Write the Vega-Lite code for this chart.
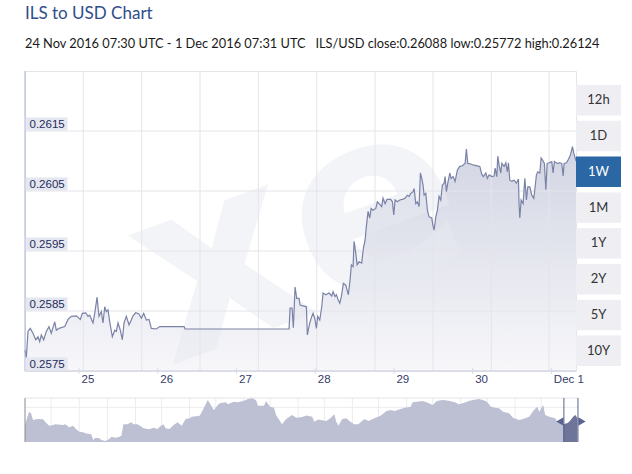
{
  "$schema": "https://vega.github.io/schema/vega-lite/v6.json",
  "background": "white",
  "padding": {"left": 22, "top": 5, "right": 0, "bottom": 0},
  "width": 551,
  "height": 300,
  "title": {
    "text": "ILS to USD Chart",
    "subtitle": "24 Nov 2016 07:30 UTC - 1 Dec 2016 07:31 UTC\u00a0\u00a0\u00a0ILS/USD close:0.26088 low:0.25772 high:0.26124",
    "anchor": "start", "frame": "group",
    "font": "Lato", "fontSize": 17, "fontWeight": "normal", "color": "#2f4d8a",
    "subtitleFont": "Lato", "subtitleFontSize": 12.8, "subtitleColor": "#1a1a1a",
    "subtitlePadding": 15, "offset": 13
  },
  "config": {"view": {"stroke": "#e4e4ea"}},
  "datasets": {
    "main": [
      {"t":"2016-11-24T07:30Z","v":0.25785},{"t":"2016-11-24T07:54Z","v":0.25772},{"t":"2016-11-24T08:25Z","v":0.25816},{"t":"2016-11-24T09:07Z","v":0.25821},
      {"t":"2016-11-24T09:56Z","v":0.25813},{"t":"2016-11-24T10:46Z","v":0.25802},{"t":"2016-11-24T11:28Z","v":0.25807},{"t":"2016-11-24T11:59Z","v":0.25799},
      {"t":"2016-11-24T12:28Z","v":0.2581},{"t":"2016-11-24T13:12Z","v":0.25802},{"t":"2016-11-24T14:00Z","v":0.25816},{"t":"2016-11-24T14:49Z","v":0.25824},
      {"t":"2016-11-24T15:31Z","v":0.25813},{"t":"2016-11-24T16:34Z","v":0.25832},{"t":"2016-11-24T17:03Z","v":0.25818},{"t":"2016-11-24T17:52Z","v":0.25821},
      {"t":"2016-11-24T19:37Z","v":0.25824},{"t":"2016-11-24T20:37Z","v":0.25836},{"t":"2016-11-24T21:37Z","v":0.25841},{"t":"2016-11-24T23:09Z","v":0.25842},
      {"t":"2016-11-25T00:22Z","v":0.25836},{"t":"2016-11-25T00:59Z","v":0.25846},{"t":"2016-11-25T02:01Z","v":0.25847},{"t":"2016-11-25T02:43Z","v":0.25841},
      {"t":"2016-11-25T03:14Z","v":0.25843},{"t":"2016-11-25T04:14Z","v":0.2583},{"t":"2016-11-25T04:46Z","v":0.25846},{"t":"2016-11-25T05:28Z","v":0.25873},
      {"t":"2016-11-25T06:04Z","v":0.25841},{"t":"2016-11-25T06:46Z","v":0.25849},{"t":"2016-11-25T07:17Z","v":0.2583},{"t":"2016-11-25T07:49Z","v":0.25857},
      {"t":"2016-11-25T08:18Z","v":0.25849},{"t":"2016-11-25T08:49Z","v":0.25852},{"t":"2016-11-25T09:20Z","v":0.25832},{"t":"2016-11-25T10:08Z","v":0.25807},
      {"t":"2016-11-25T10:52Z","v":0.25818},{"t":"2016-11-25T11:21Z","v":0.25816},{"t":"2016-11-25T11:52Z","v":0.2583},{"t":"2016-11-25T12:34Z","v":0.25818},
      {"t":"2016-11-25T13:11Z","v":0.25802},{"t":"2016-11-25T13:42Z","v":0.2583},{"t":"2016-11-25T14:24Z","v":0.25841},{"t":"2016-11-25T15:13Z","v":0.25827},
      {"t":"2016-11-25T15:55Z","v":0.25835},{"t":"2016-11-25T16:26Z","v":0.25842},{"t":"2016-11-25T17:16Z","v":0.25847},{"t":"2016-11-25T18:16Z","v":0.25845},
      {"t":"2016-11-25T18:58Z","v":0.25838},{"t":"2016-11-25T19:42Z","v":0.25846},{"t":"2016-11-25T20:30Z","v":0.25835},{"t":"2016-11-25T21:19Z","v":0.25836},
      {"t":"2016-11-25T22:01Z","v":0.25821},{"t":"2016-11-25T23:33Z","v":0.2582},{"t":"2016-11-26T00:35Z","v":0.25824},{"t":"2016-11-26T08:00Z","v":0.25824},
      {"t":"2016-11-26T08:18Z","v":0.2582},{"t":"2016-11-27T16:01Z","v":0.2582},{"t":"2016-11-27T16:20Z","v":0.25855},{"t":"2016-11-27T16:56Z","v":0.25855},
      {"t":"2016-11-27T17:20Z","v":0.25822},{"t":"2016-11-27T17:51Z","v":0.2589},{"t":"2016-11-27T18:22Z","v":0.25871},{"t":"2016-11-27T19:04Z","v":0.25871},
      {"t":"2016-11-27T19:23Z","v":0.2586},{"t":"2016-11-27T21:18Z","v":0.25857},{"t":"2016-11-27T21:36Z","v":0.2581},{"t":"2016-11-27T22:20Z","v":0.2583},
      {"t":"2016-11-27T22:56Z","v":0.25841},{"t":"2016-11-27T23:20Z","v":0.25846},{"t":"2016-11-27T23:51Z","v":0.25838},{"t":"2016-11-28T00:21Z","v":0.25821},
      {"t":"2016-11-28T00:46Z","v":0.25841},{"t":"2016-11-28T01:23Z","v":0.25835},{"t":"2016-11-28T01:59Z","v":0.25857},{"t":"2016-11-28T02:23Z","v":0.2588},
      {"t":"2016-11-28T03:13Z","v":0.25877},{"t":"2016-11-28T04:13Z","v":0.2588},{"t":"2016-11-28T05:02Z","v":0.25875},{"t":"2016-11-28T05:26Z","v":0.25882},
      {"t":"2016-11-28T06:03Z","v":0.25874},{"t":"2016-11-28T06:27Z","v":0.25877},{"t":"2016-11-28T07:03Z","v":0.25868},{"t":"2016-11-28T07:29Z","v":0.25863},
      {"t":"2016-11-28T07:58Z","v":0.25874},{"t":"2016-11-28T08:35Z","v":0.25896},{"t":"2016-11-28T09:19Z","v":0.25893},{"t":"2016-11-28T10:06Z","v":0.25877},
      {"t":"2016-11-28T10:38Z","v":0.25902},{"t":"2016-11-28T11:01Z","v":0.25927},{"t":"2016-11-28T11:32Z","v":0.25924},{"t":"2016-11-28T11:51Z","v":0.25966},
      {"t":"2016-11-28T12:22Z","v":0.25946},{"t":"2016-11-28T12:46Z","v":0.25927},{"t":"2016-11-28T13:22Z","v":0.25932},{"t":"2016-11-28T14:11Z","v":0.2593},
      {"t":"2016-11-28T14:41Z","v":0.25955},{"t":"2016-11-28T15:12Z","v":0.25968},{"t":"2016-11-28T15:36Z","v":0.25991},{"t":"2016-11-28T16:07Z","v":0.26016},
      {"t":"2016-11-28T16:38Z","v":0.26005},{"t":"2016-11-28T17:02Z","v":0.26021},{"t":"2016-11-28T17:38Z","v":0.26018},{"t":"2016-11-28T18:28Z","v":0.26021},
      {"t":"2016-11-28T18:57Z","v":0.26032},{"t":"2016-11-28T19:28Z","v":0.26029},{"t":"2016-11-28T20:17Z","v":0.26024},{"t":"2016-11-28T20:41Z","v":0.26038},
      {"t":"2016-11-28T21:18Z","v":0.26029},{"t":"2016-11-28T21:55Z","v":0.26036},{"t":"2016-11-28T23:02Z","v":0.26036},{"t":"2016-11-28T23:32Z","v":0.26032},
      {"t":"2016-11-28T23:57Z","v":0.2601},{"t":"2016-11-29T00:21Z","v":0.26035},{"t":"2016-11-29T01:03Z","v":0.26032},{"t":"2016-11-29T01:47Z","v":0.26035},
      {"t":"2016-11-29T02:35Z","v":0.26036},{"t":"2016-11-29T03:24Z","v":0.26038},{"t":"2016-11-29T04:06Z","v":0.26043},{"t":"2016-11-29T04:37Z","v":0.26041},
      {"t":"2016-11-29T05:08Z","v":0.26046},{"t":"2016-11-29T05:50Z","v":0.26049},{"t":"2016-11-29T06:09Z","v":0.26054},{"t":"2016-11-29T06:40Z","v":0.26029},
      {"t":"2016-11-29T07:09Z","v":0.26032},{"t":"2016-11-29T07:40Z","v":0.26024},{"t":"2016-11-29T08:04Z","v":0.2608},{"t":"2016-11-29T08:29Z","v":0.26071},
      {"t":"2016-11-29T08:53Z","v":0.2606},{"t":"2016-11-29T09:12Z","v":0.26043},{"t":"2016-11-29T09:43Z","v":0.26046},{"t":"2016-11-29T10:12Z","v":0.26018},
      {"t":"2016-11-29T10:43Z","v":0.26007},{"t":"2016-11-29T11:32Z","v":0.26005},{"t":"2016-11-29T11:56Z","v":0.25991},{"t":"2016-11-29T12:15Z","v":0.25985},
      {"t":"2016-11-29T12:46Z","v":0.26007},{"t":"2016-11-29T13:15Z","v":0.26018},{"t":"2016-11-29T13:46Z","v":0.26041},{"t":"2016-11-29T14:17Z","v":0.26035},
      {"t":"2016-11-29T14:47Z","v":0.2606},{"t":"2016-11-29T15:18Z","v":0.26063},{"t":"2016-11-29T15:36Z","v":0.26074},{"t":"2016-11-29T16:00Z","v":0.26049},
      {"t":"2016-11-29T16:25Z","v":0.26063},{"t":"2016-11-29T17:02Z","v":0.2608},{"t":"2016-11-29T17:26Z","v":0.26071},{"t":"2016-11-29T18:02Z","v":0.26074},
      {"t":"2016-11-29T18:39Z","v":0.26066},{"t":"2016-11-29T19:21Z","v":0.26085},{"t":"2016-11-29T20:05Z","v":0.26091},{"t":"2016-11-29T20:53Z","v":0.26092},
      {"t":"2016-11-29T21:42Z","v":0.26096},{"t":"2016-11-29T22:06Z","v":0.2612},{"t":"2016-11-29T22:31Z","v":0.26096},{"t":"2016-11-29T23:26Z","v":0.26095},
      {"t":"2016-11-30T00:26Z","v":0.26093},{"t":"2016-11-30T01:27Z","v":0.26092},{"t":"2016-11-30T02:11Z","v":0.26091},{"t":"2016-11-30T02:47Z","v":0.26078},
      {"t":"2016-11-30T03:17Z","v":0.26074},{"t":"2016-11-30T04:01Z","v":0.2608},{"t":"2016-11-30T04:30Z","v":0.26071},{"t":"2016-11-30T05:01Z","v":0.26077},
      {"t":"2016-11-30T05:50Z","v":0.26074},{"t":"2016-11-30T06:33Z","v":0.26075},{"t":"2016-11-30T06:51Z","v":0.26088},{"t":"2016-11-30T07:22Z","v":0.26074},
      {"t":"2016-11-30T07:40Z","v":0.26108},{"t":"2016-11-30T08:04Z","v":0.26093},{"t":"2016-11-30T08:35Z","v":0.2608},{"t":"2016-11-30T08:53Z","v":0.26096},
      {"t":"2016-11-30T09:36Z","v":0.26091},{"t":"2016-11-30T10:07Z","v":0.26097},{"t":"2016-11-30T10:36Z","v":0.26082},{"t":"2016-11-30T10:55Z","v":0.26097},
      {"t":"2016-11-30T11:20Z","v":0.26068},{"t":"2016-11-30T11:56Z","v":0.26066},{"t":"2016-11-30T12:38Z","v":0.26068},{"t":"2016-11-30T13:21Z","v":0.26063},
      {"t":"2016-11-30T13:58Z","v":0.2607},{"t":"2016-11-30T14:10Z","v":0.26027},{"t":"2016-11-30T14:23Z","v":0.26005},{"t":"2016-11-30T14:47Z","v":0.26035},
      {"t":"2016-11-30T15:23Z","v":0.26029},{"t":"2016-11-30T15:55Z","v":0.26071},{"t":"2016-11-30T16:24Z","v":0.26035},{"t":"2016-11-30T16:49Z","v":0.26057},
      {"t":"2016-11-30T17:26Z","v":0.26057},{"t":"2016-11-30T18:02Z","v":0.26043},{"t":"2016-11-30T18:39Z","v":0.26038},{"t":"2016-11-30T19:03Z","v":0.26057},
      {"t":"2016-11-30T19:27Z","v":0.26077},{"t":"2016-11-30T19:52Z","v":0.26082},{"t":"2016-11-30T20:29Z","v":0.2608},{"t":"2016-11-30T20:53Z","v":0.26105},
      {"t":"2016-11-30T21:17Z","v":0.26102},{"t":"2016-11-30T21:53Z","v":0.26096},{"t":"2016-11-30T22:19Z","v":0.26052},{"t":"2016-11-30T22:43Z","v":0.26096},
      {"t":"2016-11-30T23:19Z","v":0.26097},{"t":"2016-12-01T00:08Z","v":0.26099},{"t":"2016-12-01T00:32Z","v":0.2608},{"t":"2016-12-01T00:56Z","v":0.26099},
      {"t":"2016-12-01T01:51Z","v":0.26096},{"t":"2016-12-01T02:35Z","v":0.26097},{"t":"2016-12-01T03:11Z","v":0.26096},{"t":"2016-12-01T03:35Z","v":0.26075},
      {"t":"2016-12-01T03:54Z","v":0.26096},{"t":"2016-12-01T04:36Z","v":0.26097},{"t":"2016-12-01T05:13Z","v":0.26103},{"t":"2016-12-01T05:49Z","v":0.2611},
      {"t":"2016-12-01T06:26Z","v":0.26124},{"t":"2016-12-01T06:51Z","v":0.26113},{"t":"2016-12-01T07:31Z","v":0.261}
    ],
    "vgrid": [
      {"t":"2016-11-25T01:17Z"},{"t":"2016-11-25T19:05Z"},{"t":"2016-11-26T12:52Z"},{"t":"2016-11-27T06:39Z"},{"t":"2016-11-28T00:28Z"},
      {"t":"2016-11-28T18:14Z"},{"t":"2016-11-29T11:55Z"},{"t":"2016-11-30T05:42Z"},{"t":"2016-11-30T23:18Z"}
    ],
    "days": [
      {"day":"2016-11-25T00:00Z","label":"25"},{"day":"2016-11-26T00:00Z","label":"26"},{"day":"2016-11-27T00:00Z","label":"27"},
      {"day":"2016-11-28T00:00Z","label":"28"},{"day":"2016-11-29T00:00Z","label":"29"},{"day":"2016-11-30T00:00Z","label":"30"},
      {"day":"2016-12-01T00:00Z","label":"Dec 1"}
    ],
    "yticks": [{"v":0.2575},{"v":0.2585},{"v":0.2595},{"v":0.2605},{"v":0.2615}],
    "buttons": [{"label":"12h"},{"label":"1D"},{"label":"1W"},{"label":"1M"},{"label":"1Y"},{"label":"2Y"},{"label":"5Y"},{"label":"10Y"}],
    "window": [{"w":"2016-11-24T07:30Z"},{"w":"2016-12-01T07:31Z"}],
    "navgrid": [
      {"g":"2016-03-14"},{"g":"2016-03-28"},{"g":"2016-04-11"},{"g":"2016-04-25"},{"g":"2016-05-08"},{"g":"2016-05-22"},{"g":"2016-06-04"},
      {"g":"2016-06-18"},{"g":"2016-07-01"},{"g":"2016-07-15"},{"g":"2016-07-28"},{"g":"2016-08-11"},{"g":"2016-08-24"},{"g":"2016-09-07"},
      {"g":"2016-09-20"},{"g":"2016-10-04"},{"g":"2016-10-17"},{"g":"2016-10-31"},{"g":"2016-11-13"}
    ],
    "nav": [
      {"d":"2016-03-01","v":0.25914},{"d":"2016-03-02","v":0.26096},{"d":"2016-03-03","v":0.26276},{"d":"2016-03-04","v":0.26233},{"d":"2016-03-05","v":0.2605},
      {"d":"2016-03-07","v":0.26077},{"d":"2016-03-10","v":0.26069},{"d":"2016-03-11","v":0.26004},{"d":"2016-03-13","v":0.25895},{"d":"2016-03-15","v":0.25914},
      {"d":"2016-03-16","v":0.25933},{"d":"2016-03-20","v":0.25914},{"d":"2016-03-21","v":0.25933},{"d":"2016-03-23","v":0.25851},{"d":"2016-03-25","v":0.25895},
      {"d":"2016-03-26","v":0.25824},{"d":"2016-03-28","v":0.25731},{"d":"2016-03-30","v":0.25715},{"d":"2016-03-31","v":0.25687},{"d":"2016-04-03","v":0.2566},
      {"d":"2016-04-04","v":0.25505},{"d":"2016-04-05","v":0.25567},{"d":"2016-04-07","v":0.25551},{"d":"2016-04-08","v":0.25505},{"d":"2016-04-10","v":0.25477},
      {"d":"2016-04-12","v":0.25532},{"d":"2016-04-13","v":0.25595},{"d":"2016-04-15","v":0.25567},{"d":"2016-04-17","v":0.25595},{"d":"2016-04-18","v":0.25622},
      {"d":"2016-04-19","v":0.25933},{"d":"2016-04-21","v":0.25933},{"d":"2016-04-23","v":0.25987},{"d":"2016-04-24","v":0.25933},{"d":"2016-04-26","v":0.25933},
      {"d":"2016-04-28","v":0.25867},{"d":"2016-04-29","v":0.25824},{"d":"2016-05-02","v":0.25796},{"d":"2016-05-04","v":0.2584},{"d":"2016-05-06","v":0.25805},
      {"d":"2016-05-07","v":0.25867},{"d":"2016-05-09","v":0.25933},{"d":"2016-05-10","v":0.25824},{"d":"2016-05-12","v":0.25805},{"d":"2016-05-14","v":0.25914},
      {"d":"2016-05-16","v":0.25987},{"d":"2016-05-18","v":0.25895},{"d":"2016-05-20","v":0.26077},{"d":"2016-05-22","v":0.26096},{"d":"2016-05-23","v":0.2614},
      {"d":"2016-05-27","v":0.26167},{"d":"2016-05-29","v":0.26369},{"d":"2016-05-31","v":0.26595},{"d":"2016-06-01","v":0.26505},{"d":"2016-06-03","v":0.26323},
      {"d":"2016-06-05","v":0.26459},{"d":"2016-06-06","v":0.26505},{"d":"2016-06-09","v":0.26533},{"d":"2016-06-10","v":0.26478},{"d":"2016-06-13","v":0.26549},
      {"d":"2016-06-15","v":0.26533},{"d":"2016-06-18","v":0.26576},{"d":"2016-06-20","v":0.26623},{"d":"2016-06-22","v":0.26642},{"d":"2016-06-24","v":0.26595},
      {"d":"2016-06-25","v":0.2644},{"d":"2016-06-28","v":0.2644},{"d":"2016-06-29","v":0.26568},{"d":"2016-07-01","v":0.26413},{"d":"2016-07-03","v":0.26385},
      {"d":"2016-07-04","v":0.26186},{"d":"2016-07-07","v":0.25933},{"d":"2016-07-09","v":0.26077},{"d":"2016-07-12","v":0.26186},{"d":"2016-07-14","v":0.26113},
      {"d":"2016-07-17","v":0.26132},{"d":"2016-07-19","v":0.26173},{"d":"2016-07-22","v":0.2614},{"d":"2016-07-23","v":0.26004},{"d":"2016-07-25","v":0.26064},
      {"d":"2016-07-29","v":0.26023},{"d":"2016-07-31","v":0.26096},{"d":"2016-08-02","v":0.26205},{"d":"2016-08-03","v":0.26004},{"d":"2016-08-04","v":0.25895},
      {"d":"2016-08-06","v":0.26077},{"d":"2016-08-08","v":0.26096},{"d":"2016-08-10","v":0.26004},{"d":"2016-08-12","v":0.25933},{"d":"2016-08-14","v":0.25933},
      {"d":"2016-08-17","v":0.26077},{"d":"2016-08-19","v":0.26023},{"d":"2016-08-22","v":0.26096},{"d":"2016-08-25","v":0.26167},{"d":"2016-08-28","v":0.26295},
      {"d":"2016-08-30","v":0.26323},{"d":"2016-09-01","v":0.26295},{"d":"2016-09-04","v":0.2635},{"d":"2016-09-06","v":0.26385},{"d":"2016-09-09","v":0.26413},
      {"d":"2016-09-10","v":0.26533},{"d":"2016-09-12","v":0.26549},{"d":"2016-09-15","v":0.26568},{"d":"2016-09-17","v":0.26533},{"d":"2016-09-20","v":0.26459},
      {"d":"2016-09-22","v":0.26568},{"d":"2016-09-25","v":0.26595},{"d":"2016-09-28","v":0.26576},{"d":"2016-10-01","v":0.26533},{"d":"2016-10-03","v":0.26478},
      {"d":"2016-10-05","v":0.26505},{"d":"2016-10-08","v":0.26568},{"d":"2016-10-10","v":0.26595},{"d":"2016-10-13","v":0.26623},{"d":"2016-10-15","v":0.26595},
      {"d":"2016-10-17","v":0.26549},{"d":"2016-10-19","v":0.26413},{"d":"2016-10-21","v":0.26385},{"d":"2016-10-23","v":0.26369},{"d":"2016-10-25","v":0.26276},
      {"d":"2016-10-28","v":0.26233},{"d":"2016-10-30","v":0.26113},{"d":"2016-11-02","v":0.2605},{"d":"2016-11-04","v":0.26077},{"d":"2016-11-07","v":0.2614},
      {"d":"2016-11-09","v":0.26295},{"d":"2016-11-11","v":0.26413},{"d":"2016-11-12","v":0.26276},{"d":"2016-11-14","v":0.26459},{"d":"2016-11-15","v":0.26186},
      {"d":"2016-11-17","v":0.2614},{"d":"2016-11-20","v":0.26096},{"d":"2016-11-21","v":0.26004},{"d":"2016-11-24","v":0.25933},{"d":"2016-11-26","v":0.2596},
      {"d":"2016-11-27","v":0.26004},{"d":"2016-11-29","v":0.2614},{"d":"2016-11-30","v":0.26186},{"d":"2016-12-01","v":0.26096}
    ]
  },
  "layer": [
    {
      "layer": [
        {
          "data": {"name": "main"},
          "mark": {"type": "area", "color": {"gradient": "linear", "x1": 0, "y1": 0, "x2": 0, "y2": 1, "stops": [{"offset": 0, "color": "#d2d5e3"}, {"offset": 1, "color": "#f7f7fa"}]}},
          "encoding": {
            "x": {
              "field": "t", "type": "temporal",
              "scale": {"type": "utc", "nice": false, "domain": [{"year": 2016, "month": 11, "date": 24, "hours": 7, "minutes": 30, "utc": true}, {"year": 2016, "month": 12, "date": 1, "hours": 7, "minutes": 31, "utc": true}]},
              "axis": null
            },
            "y": {
              "field": "v", "type": "quantitative", "stack": null,
              "scale": {"domain": [0.2575, 0.2625], "nice": false, "zero": false},
              "axis": null
            }
          }
        },
        {
          "data": {"values": [{"logo": "xe"}]},
          "mark": {"type": "text", "font": "DejaVu Sans", "fontSize": 250, "fontWeight": "bold", "angle": -20, "color": "#e8eaf2", "opacity": 0.5},
          "encoding": {
            "x": {"datum": {"year": 2016, "month": 11, "date": 27, "hours": 19, "utc": true}, "type": "temporal", "axis": null},
            "y": {"datum": 0.2597, "type": "quantitative", "axis": null},
            "text": {"field": "logo"}
          }
        },
        {
          "data": {"name": "vgrid"},
          "mark": {"type": "rule", "color": "#e4e4ea", "strokeWidth": 1},
          "encoding": {"x": {"field": "t", "type": "temporal", "axis": null}}
        },
        {
          "data": {"name": "yticks"},
          "mark": {"type": "rule", "color": "#e4e4ea", "strokeWidth": 1},
          "encoding": {"y": {"field": "v", "type": "quantitative", "axis": null}}
        },
        {
          "data": {"name": "main"},
          "mark": {"type": "line", "color": "#7a82a6", "strokeWidth": 1.2},
          "encoding": {
            "x": {"field": "t", "type": "temporal", "axis": null},
            "y": {"field": "v", "type": "quantitative", "axis": null}
          }
        },
        {
          "data": {"values": [{"edge": "x-axis"}]},
          "mark": {"type": "rule", "color": "#cfd2e0", "strokeWidth": 1},
          "encoding": {"y": {"datum": 0.2575, "type": "quantitative", "axis": null}}
        },
        {
          "data": {"values": [{"edge": "y-axis"}]},
          "mark": {"type": "rule", "color": "#a9b0d6", "strokeWidth": 1},
          "encoding": {"x": {"datum": {"year": 2016, "month": 11, "date": 24, "hours": 7, "minutes": 30, "utc": true}, "type": "temporal", "axis": null}}
        },
        {
          "data": {"name": "days"},
          "mark": {"type": "tick", "orient": "vertical", "color": "#cfd2e0", "size": 6, "thickness": 1},
          "encoding": {
            "x": {"field": "day", "type": "temporal", "axis": null},
            "y": {"datum": 0.2575, "type": "quantitative", "axis": null}
          }
        },
        {
          "data": {"name": "days"},
          "mark": {"type": "text", "align": "left", "baseline": "top", "dx": 2.5, "dy": 3, "font": "Liberation Sans", "fontSize": 11.5, "color": "#343b6b"},
          "encoding": {
            "x": {"field": "day", "type": "temporal", "axis": null},
            "y": {"datum": 0.2575, "type": "quantitative", "axis": null},
            "text": {"field": "label"}
          }
        },
        {
          "data": {"name": "yticks"},
          "mark": {"type": "point", "shape": "M-1,-0.31H1V0.31H-1Z", "size": 1764, "filled": true, "color": "#e4e6f0", "opacity": 1, "xOffset": 21.5, "yOffset": -7},
          "encoding": {
            "x": {"datum": {"year": 2016, "month": 11, "date": 24, "hours": 7, "minutes": 30, "utc": true}, "type": "temporal", "axis": null},
            "y": {"field": "v", "type": "quantitative", "axis": null}
          }
        },
        {
          "data": {"name": "yticks"},
          "mark": {"type": "text", "align": "left", "baseline": "alphabetic", "dx": 4.5, "dy": -3.5, "font": "Liberation Sans", "fontSize": 11.5, "color": "#262b5a"},
          "encoding": {
            "x": {"datum": {"year": 2016, "month": 11, "date": 24, "hours": 7, "minutes": 30, "utc": true}, "type": "temporal", "axis": null},
            "y": {"field": "v", "type": "quantitative", "axis": null},
            "text": {"field": "v", "type": "quantitative", "format": ".4f"}
          }
        }
      ]
    },
    {
      "data": {"name": "buttons"},
      "layer": [
        {
          "mark": {"type": "rect"},
          "encoding": {
            "x": {"datum": 0, "type": "quantitative", "scale": {"domain": [0, 1], "range": [551, 596]}, "axis": null},
            "x2": {"datum": 1},
            "y": {"field": "label", "type": "nominal", "sort": null, "scale": {"range": [14, 295], "paddingInner": 0.15, "paddingOuter": 0}, "axis": null},
            "color": {"condition": {"test": "datum.label === '1W'", "value": "#2b67a4"}, "value": "#eeeef3"}
          }
        },
        {
          "mark": {"type": "text", "font": "Lato", "fontSize": 13},
          "encoding": {
            "x": {"datum": 0.5, "type": "quantitative", "axis": null},
            "y": {"field": "label", "type": "nominal", "sort": null, "axis": null},
            "text": {"field": "label"},
            "color": {"condition": {"test": "datum.label === '1W'", "value": "#ffffff"}, "value": "#333333"}
          }
        }
      ]
    },
    {
      "layer": [
        {
          "data": {"name": "navgrid"},
          "mark": {"type": "rule", "color": "#ececf0"},
          "encoding": {
            "x": {"field": "g", "type": "temporal", "axis": null},
            "y": {"datum": 0.2665, "type": "quantitative", "axis": null},
            "y2": {"datum": 0.2545}
          }
        },
        {
          "data": {"values": [{"line": "grid"}]},
          "mark": {"type": "rule", "color": "#ececf0"},
          "encoding": {
            "x": {"datum": {"year": 2016, "month": 3, "date": 1, "utc": true}, "type": "temporal", "axis": null},
            "x2": {"datum": {"year": 2016, "month": 12, "date": 1, "hours": 8, "utc": true}},
            "y": {"datum": 0.26396, "type": "quantitative", "axis": null}
          }
        },
        {
          "data": {"values": [{"line": "top"}]},
          "mark": {"type": "rule", "color": "#e4e4ea"},
          "encoding": {
            "x": {"datum": {"year": 2016, "month": 3, "date": 1, "utc": true}, "type": "temporal", "axis": null},
            "x2": {"datum": {"year": 2016, "month": 12, "date": 1, "hours": 8, "utc": true}},
            "y": {"datum": 0.2665, "type": "quantitative", "axis": null}
          }
        },
        {
          "data": {"name": "nav"},
          "mark": {"type": "area", "color": "#bcc0d2"},
          "encoding": {
            "x": {
              "field": "d", "type": "temporal",
              "scale": {"type": "utc", "nice": false, "range": [0, 553], "domain": [{"year": 2016, "month": 3, "date": 1, "utc": true}, {"year": 2016, "month": 12, "date": 1, "hours": 8, "utc": true}]},
              "axis": null
            },
            "y": {"field": "v", "type": "quantitative", "stack": null, "scale": {"domain": [0.2545, 0.2665], "nice": false, "zero": false, "range": [371, 327]}, "axis": null},
            "y2": {"datum": 0.2545}
          }
        },
        {
          "data": {"name": "nav"},
          "transform": [{"filter": {"field": "d", "gte": {"year": 2016, "month": 11, "date": 24, "utc": true}}}],
          "mark": {"type": "area", "color": "#6e7599"},
          "encoding": {
            "x": {"field": "d", "type": "temporal", "axis": null},
            "y": {"field": "v", "type": "quantitative", "stack": null, "axis": null},
            "y2": {"datum": 0.2545}
          }
        },
        {
          "data": {"values": [{"line": "left"}]},
          "mark": {"type": "rule", "color": "#8a8a8a"},
          "encoding": {
            "x": {"datum": {"year": 2016, "month": 3, "date": 1, "utc": true}, "type": "temporal", "axis": null},
            "y": {"datum": 0.2665, "type": "quantitative", "axis": null},
            "y2": {"datum": 0.2545}
          }
        },
        {
          "data": {"name": "window"},
          "mark": {"type": "rule", "color": "#59628c", "strokeWidth": 1},
          "encoding": {
            "x": {"field": "w", "type": "temporal", "axis": null},
            "y": {"datum": 0.2665, "type": "quantitative", "axis": null},
            "y2": {"datum": 0.2545}
          }
        },
        {
          "data": {"values": [{"handle": "left"}]},
          "mark": {"type": "point", "shape": "triangle-left", "filled": true, "size": 70, "color": "#5b6390", "opacity": 1, "xOffset": -4},
          "encoding": {
            "x": {"datum": {"year": 2016, "month": 11, "date": 24, "hours": 7, "minutes": 30, "utc": true}, "type": "temporal", "axis": null},
            "y": {"datum": 0.2601, "type": "quantitative", "axis": null}
          }
        },
        {
          "data": {"values": [{"handle": "right"}]},
          "mark": {"type": "point", "shape": "triangle-right", "filled": true, "size": 70, "color": "#5b6390", "opacity": 1, "xOffset": 4},
          "encoding": {
            "x": {"datum": {"year": 2016, "month": 12, "date": 1, "hours": 7, "minutes": 31, "utc": true}, "type": "temporal", "axis": null},
            "y": {"datum": 0.2601, "type": "quantitative", "axis": null}
          }
        }
      ]
    }
  ],
  "resolve": {"scale": {"x": "independent", "y": "independent"}, "axis": {"x": "independent", "y": "independent"}}
}
